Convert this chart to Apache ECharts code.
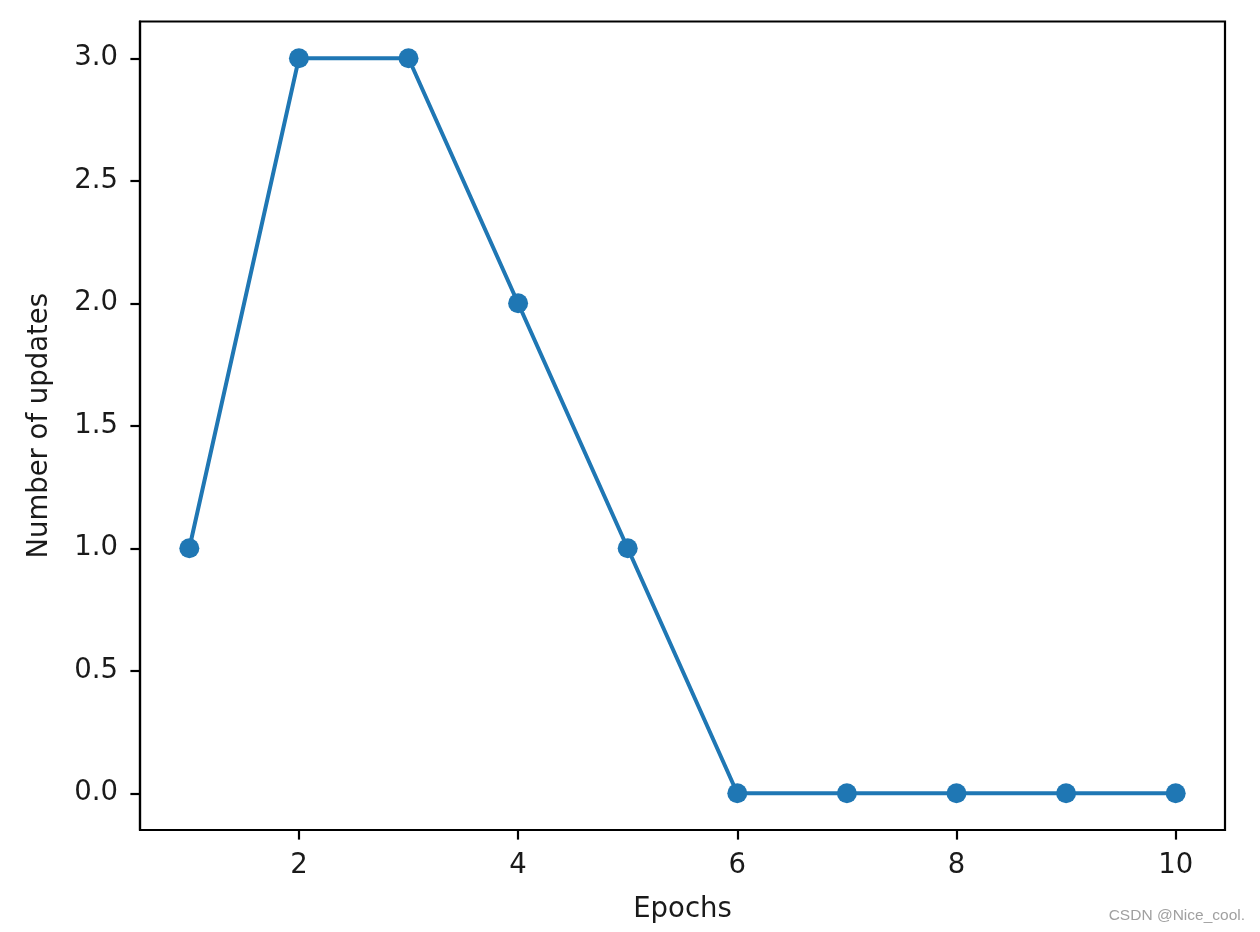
<!DOCTYPE html>
<html>
<head>
<meta charset="utf-8">
<script src="https://cdn.jsdelivr.net/npm/echarts@6/dist/echarts.min.js"></script>
<style>html,body{margin:0;padding:0;background:#fff;}#c{width:1260px;height:932px;}</style>
</head>
<body>
<div id="c"></div>
<script>
const epochs = [1, 2, 3, 4, 5, 6, 7, 8, 9, 10];
const updates = [1, 3, 3, 2, 1, 0, 0, 0, 0, 0];
const xTicks = [2, 4, 6, 8, 10];
const yTicks = [0, 0.5, 1.0, 1.5, 2.0, 2.5, 3.0];

const chart = echarts.init(document.getElementById('c'), null, {renderer: 'canvas'});
const font = 'DejaVu Sans';
const lineCol = '#000';
chart.setOption({
  animation: false,
  backgroundColor: '#fff',
  grid: {left: 140, right: 35, top: 21.5, bottom: 102, show: true, borderColor: lineCol, borderWidth: 2.2, containLabel: false},
  xAxis: {
    type: 'value', min: 0.55, max: 10.45,
    name: 'Epochs', nameLocation: 'middle', nameGap: 66,
    nameTextStyle: {fontFamily: font, fontSize: 27.5, color: '#1a1a1a'},
    axisLine: {show: true, onZero: false, lineStyle: {color: lineCol, width: 2.2}},
    axisTick: {show: true, customValues: xTicks, length: 9.6, lineStyle: {color: lineCol, width: 2.2}},
    splitLine: {show: false},
    axisLabel: {customValues: xTicks, margin: 22, fontFamily: font, fontSize: 27.5, color: '#1a1a1a'}
  },
  yAxis: {
    type: 'value', min: -0.15, max: 3.15,
    name: 'Number of updates', nameLocation: 'middle', nameGap: 86,
    nameTextStyle: {fontFamily: font, fontSize: 27.5, color: '#1a1a1a'},
    axisLine: {show: true, onZero: false, lineStyle: {color: lineCol, width: 2.2}},
    axisTick: {show: true, customValues: yTicks, length: 9.6, lineStyle: {color: lineCol, width: 2.2}},
    splitLine: {show: false},
    axisLabel: {customValues: yTicks, margin: 22, fontFamily: font, fontSize: 27.5, color: '#1a1a1a',
      formatter: v => v.toFixed(1)}
  },
  series: [{
    type: 'line',
    data: epochs.map((e, i) => [e, updates[i]]),
    symbol: 'circle', symbolSize: 20,
    showSymbol: true,
    lineStyle: {color: '#1f77b4', width: 4},
    itemStyle: {color: '#1f77b4'},
    z: 3
  }],
  graphic: [{
    type: 'text', right: 15, top: 908,
    style: {text: 'CSDN @Nice_cool.', font: '15.5px Liberation Sans', fill: '#a0a0a0'}
  }]
});
</script>
</body>
</html>
